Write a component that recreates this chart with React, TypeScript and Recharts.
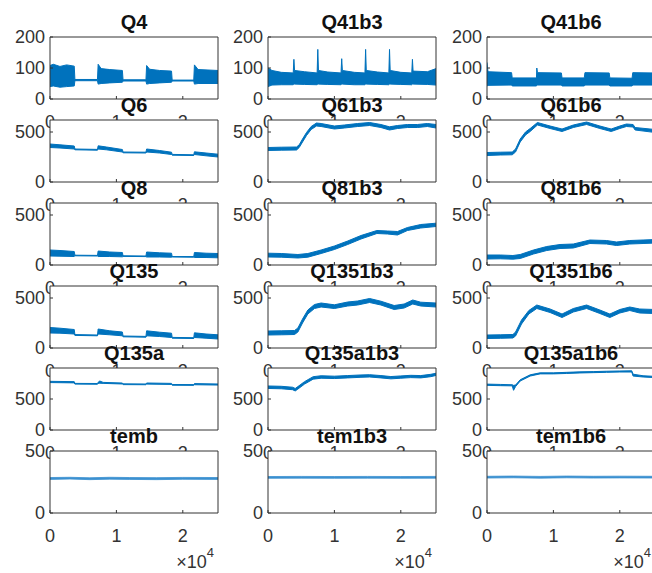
import { AreaChart, Area, XAxis, YAxis, CartesianGrid } from 'recharts';

// shared x range (samples), MATLAB shows the axis in units of 1e4
const X_MAX = 25300;
const X_TICKS = [0, 10000, 20000];

// band envelopes: [x, low, high]
const q4 = [
  [0, 40, 108], [500, 42, 112], [1500, 38, 105], [2500, 40, 110], [3650, 42, 106],
  [3750, 59, 63], [7150, 59, 63],
  [7250, 48, 112], [7700, 50, 98], [9000, 52, 95], [10900, 54, 92],
  [11000, 58, 62], [14450, 58, 62],
  [14550, 48, 108], [15000, 50, 96], [16500, 52, 92], [18300, 54, 90],
  [18400, 58, 61], [21650, 58, 61],
  [21750, 48, 110], [22300, 50, 95], [25300, 50, 92],
];
const q41b3 = [
  [0, 40, 100], [600, 45, 92], [2000, 46, 86], [3800, 46, 84], [3900, 48, 128], [4000, 48, 92],
  [5500, 47, 88], [7400, 46, 84], [7500, 48, 160], [7600, 48, 92], [9000, 47, 87], [11000, 46, 84],
  [11100, 48, 130], [11200, 48, 92], [13000, 46, 86], [14600, 46, 84], [14700, 48, 160], [14800, 48, 92],
  [16500, 47, 87], [18200, 46, 84], [18300, 48, 160], [18400, 48, 92], [20000, 47, 86], [21650, 46, 84],
  [21750, 48, 128], [21850, 48, 90], [24000, 47, 88], [25300, 45, 98],
];
const q41b6 = [
  [0, 42, 118], [150, 44, 88], [3700, 45, 85], [3800, 42, 68], [7450, 42, 68], [7500, 45, 100],
  [7600, 45, 85], [11200, 45, 84], [11300, 42, 68], [14650, 42, 68], [14750, 45, 85], [18400, 45, 84],
  [18500, 42, 68], [21850, 42, 67], [21950, 45, 85], [25300, 45, 84],
];
const q6 = [
  [0, 345, 380], [1500, 340, 372], [3650, 330, 360], [3750, 322, 330], [7150, 318, 326],
  [7250, 330, 362], [8500, 322, 350], [10900, 300, 325], [11000, 292, 300], [14450, 290, 298],
  [14550, 300, 330], [16500, 290, 315], [18300, 275, 298], [18400, 268, 276], [21650, 265, 272],
  [21750, 275, 302], [23500, 262, 290], [25300, 250, 278],
];
const q61b3 = [
  [0, 315, 345], [2000, 318, 348], [4300, 320, 350], [4700, 345, 372], [5200, 400, 430],
  [5800, 465, 495], [6500, 525, 555], [7300, 560, 590], [8000, 555, 585], [10000, 530, 560],
  [11500, 540, 570], [13500, 555, 585], [15300, 565, 595], [17000, 545, 575], [18300, 520, 552],
  [19500, 535, 565], [21000, 545, 575], [22500, 545, 575], [24000, 555, 585], [25300, 540, 575],
];
const q61b6 = [
  [0, 265, 295], [2000, 270, 298], [3800, 272, 300], [4300, 300, 330], [5000, 400, 430],
  [5800, 470, 500], [6500, 505, 535], [7600, 570, 595], [9500, 535, 560], [11300, 505, 530],
  [13000, 545, 570], [15000, 575, 600], [17000, 535, 560], [18700, 505, 530], [20000, 535, 560],
  [21000, 555, 580], [22000, 550, 575], [22300, 520, 545], [25300, 495, 525],
];
const q8 = [
  [0, 90, 150], [1500, 88, 145], [3650, 85, 135], [3750, 92, 98], [7150, 90, 96],
  [7250, 85, 140], [9000, 85, 130], [10900, 82, 125], [11000, 86, 92], [14450, 84, 90],
  [14550, 80, 130], [16500, 80, 122], [18300, 78, 118], [18400, 80, 85], [21650, 78, 84],
  [21750, 75, 125], [23500, 75, 118], [25300, 72, 115],
];
const q81b3 = [
  [0, 80, 118], [2000, 78, 115], [4500, 70, 105], [6000, 78, 115], [8000, 115, 150],
  [10000, 155, 190], [12000, 205, 240], [14000, 260, 295], [16400, 315, 345], [18000, 310, 340],
  [19500, 300, 335], [21000, 345, 375], [23000, 370, 405], [25300, 385, 418],
];
const q81b6 = [
  [0, 60, 100], [2000, 62, 100], [3900, 58, 95], [5000, 65, 105], [7000, 110, 150],
  [9000, 145, 185], [11000, 165, 205], [13000, 170, 210], [15500, 215, 250], [18000, 210, 245],
  [19500, 195, 230], [21500, 210, 245], [23500, 215, 250], [25300, 220, 255],
];
const q135 = [
  [0, 150, 205], [1500, 148, 198], [3650, 140, 185], [3750, 126, 134], [7150, 122, 130],
  [7250, 140, 190], [9000, 132, 172], [10900, 122, 160], [11000, 112, 120], [14450, 108, 116],
  [14550, 122, 172], [16500, 115, 158], [18300, 105, 148], [18400, 98, 106], [21650, 95, 103],
  [21750, 105, 152], [23500, 98, 140], [25300, 90, 132],
];
const q1351b3 = [
  [0, 130, 170], [2000, 132, 172], [4000, 135, 175], [4500, 160, 200], [5200, 250, 290],
  [6000, 340, 380], [7000, 395, 435], [8000, 410, 450], [10000, 395, 432], [12000, 420, 460],
  [13500, 430, 470], [15300, 455, 495], [17000, 430, 468], [19000, 385, 425], [20500, 400, 440],
  [21800, 440, 480], [23000, 420, 458], [25300, 410, 450],
];
const q1351b6 = [
  [0, 95, 130], [2000, 97, 132], [3900, 100, 135], [4300, 120, 160], [5200, 240, 280],
  [6300, 340, 375], [7500, 395, 430], [9500, 355, 390], [11300, 305, 340], [13000, 360, 395],
  [15000, 395, 430], [17000, 345, 380], [18500, 305, 340], [20000, 350, 385], [21500, 375, 410],
  [23000, 350, 390], [25300, 345, 385],
];
const q135a = [
  [0, 765, 785], [3650, 760, 780], [3750, 740, 752], [7150, 738, 750], [7250, 750, 770],
  [7500, 755, 790], [8000, 752, 768], [10900, 742, 758], [11000, 732, 744], [14450, 730, 742],
  [14550, 740, 758], [18300, 735, 752], [18400, 722, 734], [21650, 720, 732], [21750, 730, 748],
  [25300, 725, 742],
];
const q135a1b3 = [
  [0, 670, 710], [2000, 665, 705], [3700, 650, 690], [4100, 630, 670], [4500, 660, 700],
  [5500, 740, 780], [6800, 820, 860], [8000, 835, 875], [10000, 830, 868], [12000, 840, 878],
  [14000, 850, 888], [15300, 855, 892], [17000, 840, 878], [18500, 825, 862], [20000, 835, 872],
  [21500, 845, 882], [23000, 840, 878], [24500, 860, 898], [25300, 880, 915],
];
const q135a1b6 = [
  [0, 720, 740], [2000, 715, 735], [3800, 712, 730], [4000, 640, 720], [4300, 700, 725],
  [5000, 790, 810], [6500, 870, 890], [8000, 905, 922], [10000, 905, 922], [12000, 912, 930],
  [14000, 920, 938], [16000, 925, 942], [18000, 930, 948], [20000, 935, 952], [21800, 935, 955],
  [22000, 870, 900], [23500, 855, 875], [25300, 845, 865],
];
const temb = [
  [0, 27.1, 28.6], [3000, 27.4, 28.8], [6000, 26.9, 28.4], [9000, 27.3, 28.8], [12000, 27.1, 28.6],
  [16000, 26.9, 28.5], [20000, 27.2, 28.7], [25300, 27.1, 28.6],
];
const tem1b3 = [
  [0, 28.0, 29.4], [5000, 28.1, 29.5], [10000, 28.0, 29.4], [15000, 28.1, 29.5], [20000, 28.0, 29.4],
  [25300, 28.1, 29.5],
];
const tem1b6 = [
  [0, 28.2, 29.6], [4000, 28.4, 29.8], [8000, 28.1, 29.5], [12000, 28.4, 29.8], [16000, 28.2, 29.6],
  [20000, 28.3, 29.7], [25300, 28.2, 29.6],
];

const TITLES = [
  ['Q4', 'Q41b3', 'Q41b6'],
  ['Q6', 'Q61b3', 'Q61b6'],
  ['Q8', 'Q81b3', 'Q81b6'],
  ['Q135', 'Q1351b3', 'Q1351b6'],
  ['Q135a', 'Q135a1b3', 'Q135a1b6'],
  ['temb', 'tem1b3', 'tem1b6'],
];
const SERIES = [
  [q4, q41b3, q41b6],
  [q6, q61b3, q61b6],
  [q8, q81b3, q81b6],
  [q135, q1351b3, q1351b6],
  [q135a, q135a1b3, q135a1b6],
  [temb, tem1b3, tem1b6],
];
const Y_MAX = [200, 620, 620, 620, 1000, 50];
const Y_TICKS = [[0, 100, 200], [0, 500], [0, 500], [0, 500], [0, 500], [0, 50]];

const COL_X = [50, 268, 487];
const ROW_Y = [37, 120, 203, 286, 368, 451];
const PLOT_W = 168;
const BLUE = '#0072BD';
const AXIS = '#333';
const FONT = '"Liberation Sans", Arial, Helvetica, sans-serif';

function Panel({ row, col }: { row: number; col: number }) {
  const data = SERIES[row][col].map(([x, lo, hi]) => ({ x, r: [lo, hi] }));
  const yMax = Y_MAX[row];
  const thin = row === 5;
  return (
    <>
      <div style={{ position: 'absolute', left: COL_X[col] - 50, top: ROW_Y[row] - 30 }}>
        <AreaChart width={222} height={124} data={data} margin={{ top: 29, right: 0, bottom: 2, left: 0 }}>
          <CartesianGrid xAxisId="b" yAxisId="l" fill="#fff" horizontal={false} vertical={false} />
          <XAxis
            xAxisId="b" dataKey="x" type="number" domain={[0, X_MAX]} allowDataOverflow
            ticks={X_TICKS} interval={0} tickFormatter={(v: number) => String(v / 10000)}
            height={30} tickSize={-3} tickMargin={19} stroke={AXIS}
            tick={{ fill: AXIS, fontSize: 18, fontFamily: FONT }}
          />
          <XAxis
            xAxisId="t" orientation="top" dataKey="x" type="number" domain={[0, X_MAX]} allowDataOverflow
            ticks={X_TICKS} interval={0} height={1} tickSize={-3} tick={false} stroke={AXIS}
          />
          <YAxis
            yAxisId="l" type="number" domain={[0, yMax]} allowDataOverflow ticks={Y_TICKS[row]} interval={0}
            width={50} tickSize={-3} tickMargin={8} stroke={AXIS}
            tick={{ fill: AXIS, fontSize: 18, fontFamily: FONT }}
          />
          <YAxis
            yAxisId="r" orientation="right" type="number" domain={[0, yMax]} allowDataOverflow
            ticks={Y_TICKS[row]} interval={0} width={4} tickSize={-3} tick={false} stroke={AXIS}
          />
          <Area
            xAxisId="b" yAxisId="l" type="linear" dataKey="r"
            stroke={thin ? '#3b90d0' : BLUE} strokeWidth={thin ? 0.8 : 1}
            fill={thin ? '#3b90d0' : BLUE} fillOpacity={1}
            dot={false} activeDot={false} isAnimationActive={false}
          />
        </AreaChart>
      </div>
      <div
        style={{
          position: 'absolute', left: COL_X[col], top: ROW_Y[row] - 27, width: PLOT_W,
          textAlign: 'center', fontWeight: 'bold', fontSize: 20, lineHeight: '24px',
          fontFamily: FONT, color: '#111', whiteSpace: 'nowrap',
        }}
      >
        {TITLES[row][col]}
      </div>
    </>
  );
}

export default function App() {
  const panels = [];
  for (let r = 0; r < 6; r++) {
    for (let c = 0; c < 3; c++) panels.push(<Panel key={`${r}-${c}`} row={r} col={c} />);
  }
  return (
    <div
      style={{
        position: 'absolute', left: 0, top: 0, width: 652, height: 573,
        overflow: 'hidden', background: '#fff', fontFamily: FONT,
      }}
    >
      {panels}
      <svg width={652} height={573} style={{ position: 'absolute', left: 0, top: 0 }}>
        {COL_X.map((x) => (
          <text key={x} x={x + 164} y={568} textAnchor="end" fontSize={18} fill={AXIS} fontFamily={FONT}>
            ×10<tspan dy={-11} fontSize={13}>4</tspan>
          </text>
        ))}
      </svg>
    </div>
  );
}
